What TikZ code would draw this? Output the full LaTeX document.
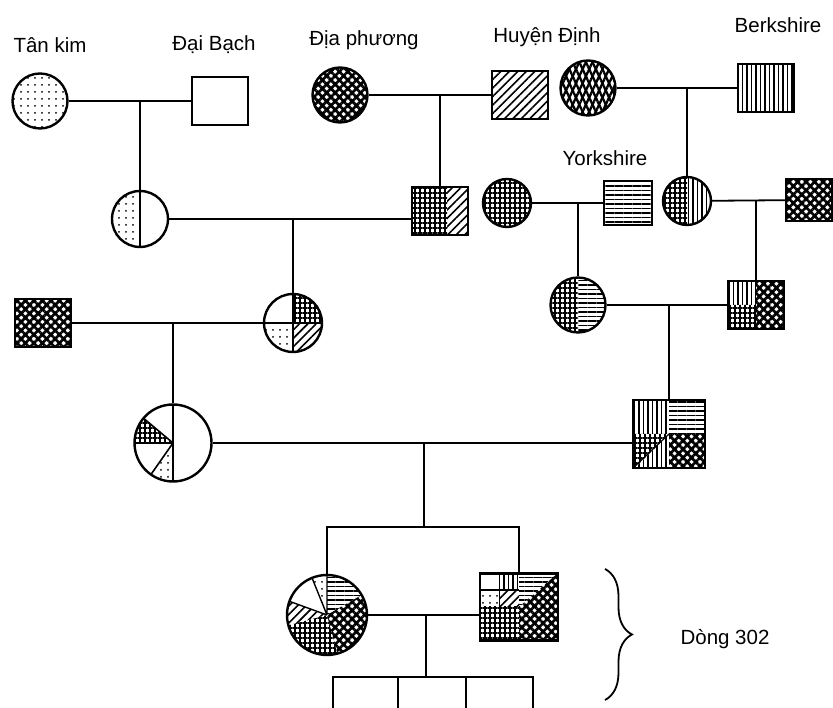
\documentclass[tikz,border=0pt]{standalone}
\usepackage{fontspec}
\setmainfont{Liberation Sans}
\usetikzlibrary{patterns.meta,decorations.pathreplacing}
\tikzset{
  male/.style={draw, line width=2.4pt, minimum width=56pt, minimum height=48pt, inner sep=0pt},
  female/.style={draw, circle, line width=2.4pt, minimum size=55pt, inner sep=0pt},
  link/.style={line width=1.8pt},
  lbl/.style={font=\fontsize{20.5}{24}\selectfont, inner sep=0pt},
  pdots/.style={pattern={Dots[distance=7pt,radius=1pt]}},
  pgrid/.style={pattern={Hatch[angle=0,distance=5pt,line width=1.6pt]}},
  pxh/.style={pattern={Hatch[angle=45,distance=6pt,line width=2.7pt]}},
  pne/.style={pattern={Lines[angle=45,distance=6pt,line width=1.6pt]}},
  pv/.style={pattern={Lines[angle=90,distance=4.5pt,line width=1.6pt]}},
  ph/.style={pattern={Lines[angle=0,distance=4.5pt,line width=1.6pt]}},
  plz/.style={preaction={pattern={Lines[angle=65,distance=6pt,line width=2.3pt]}},
              pattern={Lines[angle=115,distance=6pt,line width=2.3pt]}},
  parts/.style={path picture={\begin{scope}[shift={(path picture bounding box.center)}]#1\end{scope}}},
}
\newcommand\slice[3]{\fill[#1] (0,0) -- (#2:60) arc[start angle=#2,end angle=#3,radius=60] -- cycle;}

\begin{document}
\begin{tikzpicture}[x=1pt, y=1pt]
  \useasboundingbox (0,0) rectangle (833,708);

  \node[lbl] (ltk) at (50,663) {Tân kim};
  \node[lbl] (ldb) at (214,663) {Đại Bạch};
  \node[lbl] (ldp) at (364,668) {Địa phương};
  \node[lbl] (lhd) at (547,671) {Huyện Định};
  \node[lbl] (lbk) at (778,683) {Berkshire};
  \node[lbl] (lys) at (605,550) {Yorkshire};
  \node[lbl] (row) at (725,69) {Dòng 302};

  \node[female, pdots] (tk) at (40,607) {};
  \node[male] (db) at (220,607) {};
  \node[female, pxh] (dp) at (340,613) {};
  \node[male, pne] (hd) at (520,613) {};
  \node[female, plz] (hf) at (588,620) {};
  \node[male, pv] (bk) at (766,620) {};

  \node[female, minimum size=56pt,
    parts={\slice{pdots}{90}{270}\draw[line width=1.8pt] (0,30) -- (0,-30);}] (d1) at (140,489) {};
  \node[male, parts={\fill[pgrid] (-28,-24) rectangle (7,24); \fill[pne] (7,-24) rectangle (28,24);}] (s1) at (440,497) {};
  \node[female, minimum size=48pt, pgrid] (yf) at (507,505) {};
  \node[male, minimum width=48pt, minimum height=44pt, ph] (ys) at (628,505) {};
  \node[female, minimum size=48pt, parts={\slice{pgrid}{90}{270}\slice{pv}{-90}{90}}] (d2) at (687,507) {};
  \node[male, minimum width=46pt, minimum height=42pt, pxh] (xs) at (809,508) {};

  \node[male, pxh] (xm) at (43,385) {};
  \node[female, minimum size=58pt,
    parts={\slice{pgrid}{0}{90}\slice{pdots}{180}{270}\slice{pne}{270}{360}
           \draw[line width=1.6pt] (0,30) -- (0,-30) (-30,0) -- (30,0);}] (d3) at (293,385) {};
  \node[female, parts={\slice{pgrid}{90}{270}\slice{ph}{-90}{90}}] (c1) at (578,403) {};
  \node[male, parts={\slice{pv}{90}{180}\slice{pgrid}{180}{270}\slice{pxh}{-90}{90}}] (c2) at (756,403) {};

  \node[female, minimum size=77pt,
    parts={\slice{pgrid}{140}{180}\slice{pdots}{235}{270}
           \draw[line width=1.6pt] (0,40) -- (0,-40) (0,0) -- (140:40) (0,0) -- (180:40) (0,0) -- (235:40);}] (bp) at (173,265) {};
  \node[male, minimum width=72pt, minimum height=68pt,
    parts={\slice{pv}{90}{180}\slice{ph}{0}{90}\slice{pgrid}{180}{225}\slice{pv}{225}{270}\slice{pxh}{270}{360}
           \draw[line width=1.2pt] (-36,-34) -- (0,0);}] (bs) at (669,274) {};

  \node[female, minimum size=80pt,
    parts={\slice{ph}{30}{90}\slice{pdots}{90}{112}\slice{pne}{160}{195}\slice{pgrid}{195}{285}\slice{pxh}{-75}{30}
           \draw[line width=1.4pt] (0,0) -- (90:42) (0,0) -- (112:42) (0,0) -- (160:42);}] (fp) at (327,93) {};
  \node[male, minimum width=78pt, minimum height=67pt,
    parts={\fill[pv] (-19.5,17) rectangle (0,34); \fill[pdots] (-39,0) rectangle (-19.5,17);
           \fill[pne] (-19.5,0) rectangle (0,17); \fill[ph] (0,0) -- (0,34) -- (39,34) -- cycle;
           \fill[pxh] (0,0) -- (39,34) -- (39,0) -- cycle; \fill[pgrid] (-39,-34) rectangle (0,0);
           \fill[pxh] (0,-34) rectangle (39,0);
           \draw[line width=1.2pt] (-39,17) -- (0,17) (-19.5,0) -- (-19.5,34);}] (fs) at (519,101) {};

  \draw[link] (tk) -- (db);
  \draw[link] (dp) -- (hd);
  \draw[link] (hf) -- (bk);
  \draw[link] (d1) -- (d1 -| s1.west);
  \draw[link] (yf) -- (ys);
  \draw[link] (d2) -- (xs);
  \draw[link] (xm) -- (d3);
  \draw[link] (c1) -- (c2);
  \draw[link] (bp) -- (bp -| bs.west);
  \draw[link] (fp) -- (fp -| fs.west);

  \draw[link] (d1.north) -- (d1.north |- tk);
  \draw[link] (s1.north) -- (s1.north |- dp);
  \draw[link] (d2.north) -- (d2.north |- hf);
  \draw[link] (d3.north) -- (d3.north |- d1);
  \draw[link] (c1.north) -- (c1.north |- yf);
  \draw[link] (c2.north) -- (c2.north |- d2);
  \draw[link] (bp.north) -- (bp.north |- xm);
  \draw[link] (bs.north) -- (bs.north |- c1);

  \coordinate (sib) at (424,181);
  \draw[link] (sib) -- (sib |- bp);
  \draw[link] (fp.north) |- (sib) -| (fs.north);

  \coordinate (kids) at (426,31);
  \draw[link] (kids) -- (kids |- fp);
  \foreach \k/\x in {k1/333,k2/398,k3/466,k4/533}
    \coordinate (\k) at (\x,0);
  \draw[link] (k1) |- (kids) -| (k4);
  \draw[link] (k2) -- (k2 |- kids);
  \draw[link] (k3) -- (k3 |- kids);

  \coordinate (btop) at (605,139);
  \coordinate (bbot) at (605,8);
  \draw[link, decorate, decoration={brace, amplitude=27pt}] (btop) -- (bbot);
\end{tikzpicture}
\end{document}
